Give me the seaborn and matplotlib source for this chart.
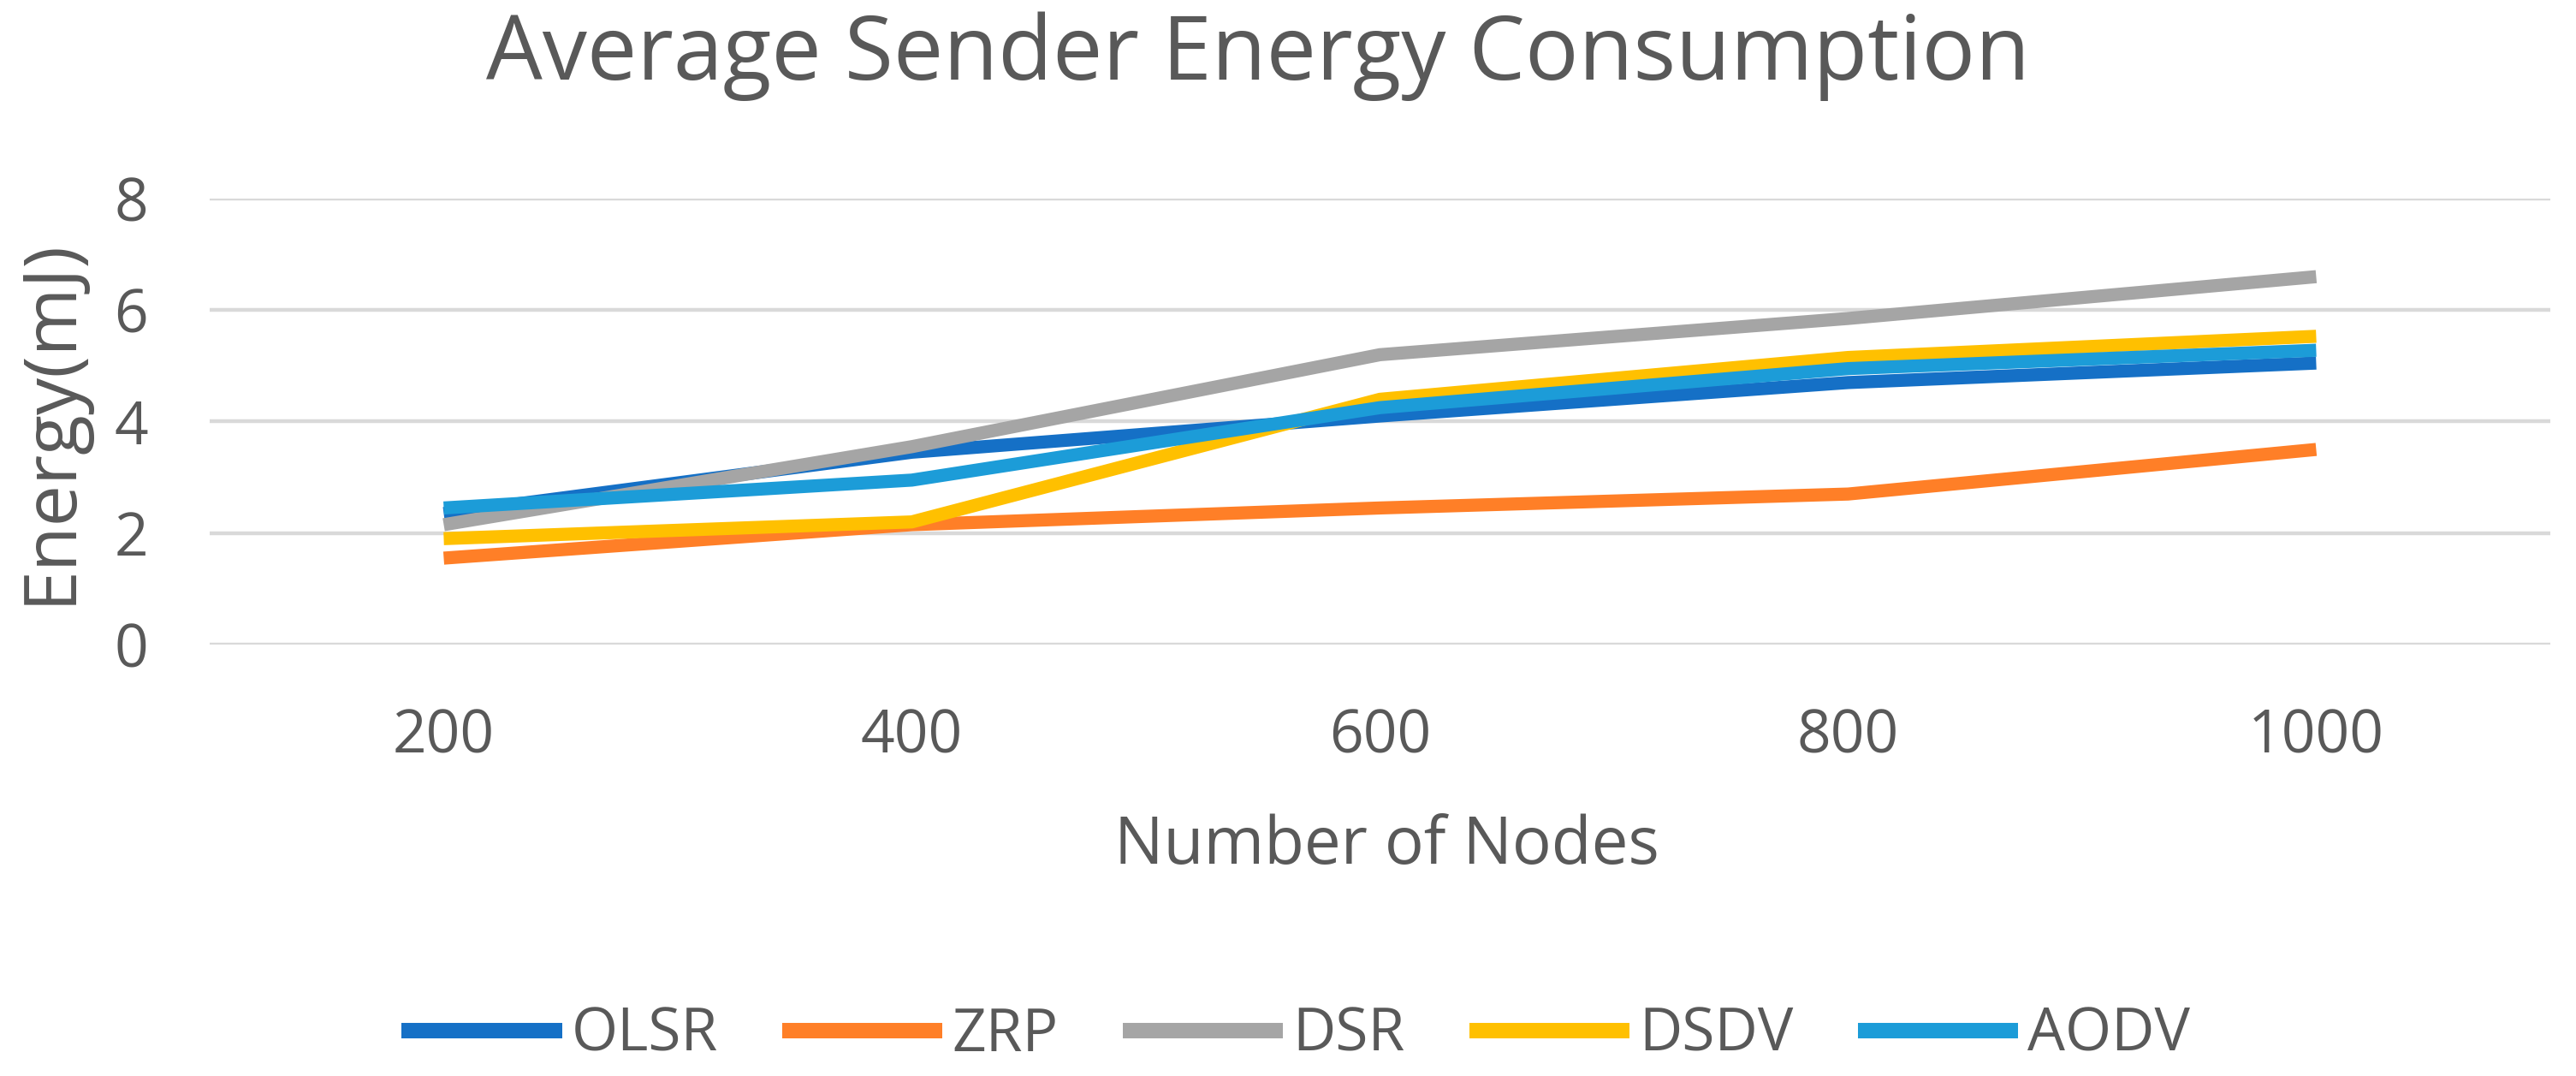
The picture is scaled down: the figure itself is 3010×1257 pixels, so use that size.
import pandas as pd
import matplotlib.pyplot as plt
import seaborn as sns

# values
nodes = ["200", "400", "600", "800", "1000"]
olsr = [2.35, 3.45, 4.10, 4.70, 5.05]
zrp = [1.55, 2.15, 2.45, 2.70, 3.50]
dsr = [2.15, 3.55, 5.20, 5.85, 6.60]
dsdv = [1.90, 2.20, 4.40, 5.15, 5.53]
aodv = [2.45, 2.95, 4.25, 4.95, 5.28]

protocols = ["OLSR", "ZRP", "DSR", "DSDV", "AODV"]
colors = {"OLSR": "#1570C6", "ZRP": "#FF7F27", "DSR": "#A5A5A5",
          "DSDV": "#FFC000", "AODV": "#1C9CD8"}

series = {"OLSR": olsr, "ZRP": zrp, "DSR": dsr, "DSDV": dsdv, "AODV": aodv}
rows = []
for name in protocols:
    for i, v in enumerate(series[name]):
        rows.append({"pos": i, "Protocol": name, "Energy": v})
df = pd.DataFrame(rows)

sns.set_style("white")
plt.rcParams['font.family'] = ['Open Sans', 'DejaVu Sans']
text_color = "#595959"

fig = plt.figure(figsize=(30.1, 12.57), dpi=100)
ax = fig.add_axes([0.0814, 0.401, 0.9086, 0.4144])

sns.lineplot(data=df, x="pos", y="Energy", hue="Protocol", hue_order=protocols,
             palette=colors, linewidth=11, ax=ax, legend=True)
for ln in ax.lines:
    ln.set_solid_capstyle("butt")
    ln.set_solid_joinstyle("round")

ax.set_xlim(-0.5, len(nodes) - 0.5)
ax.set_ylim(0, 8)
ax.set_xticks(range(len(nodes)))
ax.set_xticklabels(nodes)
ax.set_yticks([0, 2, 4, 6, 8])
ax.grid(axis="y", color="#D9D9D9", linewidth=3.2)
ax.set_axisbelow(True)
for s in ax.spines.values():
    s.set_visible(False)
ax.tick_params(axis="both", length=0, labelsize=50, colors=text_color)
ax.tick_params(axis="y", pad=52)
ax.tick_params(axis="x", pad=53)

ax.set_xlabel("Number of Nodes", fontsize=55, color=text_color)
ax.xaxis.set_label_coords(0.503, -0.4916)
ax.xaxis.label.set_va("baseline")
ax.set_ylabel("Energy(mJ)", fontsize=62, color=text_color)
ax.yaxis.set_label_coords(-0.0677, 0.501)
ax.yaxis.label.set_va("center")

fig.text(0.1887, 0.926, "Average Sender Energy Consumption", fontsize=75,
         color=text_color, ha="left", va="baseline")

handles, labels = ax.get_legend_handles_labels()
ax.legend_.remove()
leg = fig.legend(handles, labels, loc="center", bbox_to_anchor=(0.503, 0.0374),
                 ncol=5, frameon=False, fontsize=50, handlelength=2.7,
                 columnspacing=1.08, handletextpad=0.16)
for t in leg.get_texts():
    t.set_color(text_color)
for h in leg.get_lines():
    h.set_linewidth(13)
    h.set_solid_capstyle("butt")

fig.savefig("out.png", dpi=100)
